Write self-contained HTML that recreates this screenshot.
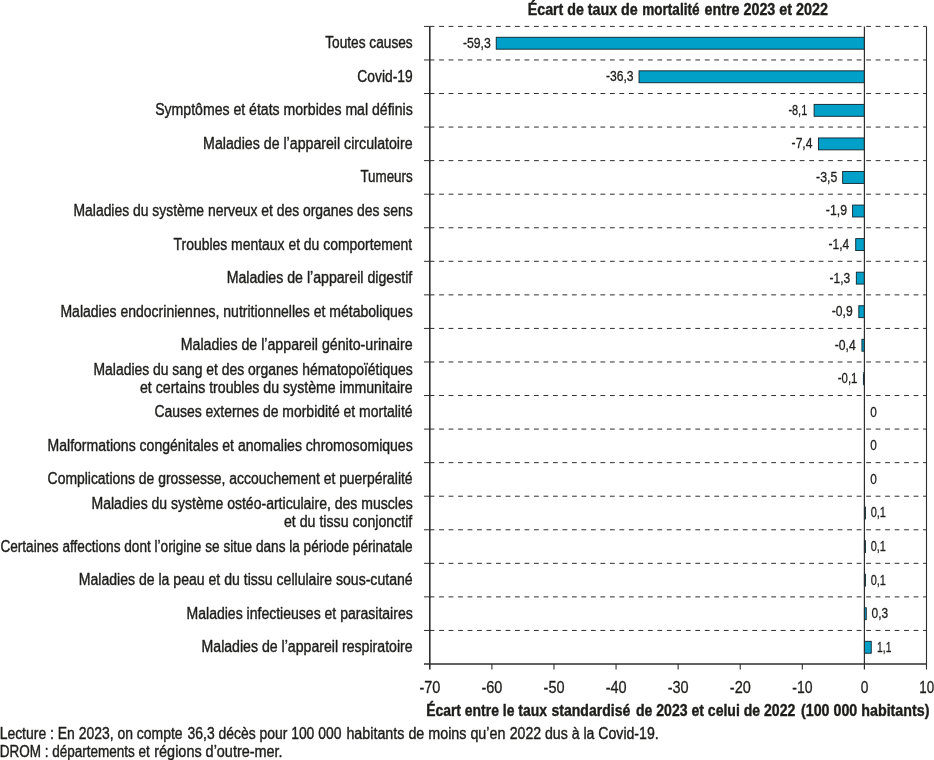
<!DOCTYPE html>
<html lang="fr">
<head>
<meta charset="utf-8">
<title>Écart de taux de mortalité entre 2023 et 2022</title>
<style>
html,body{margin:0;padding:0;background:#fff;}
body{width:934px;height:760px;overflow:hidden;}
svg{display:block;transform:translateZ(0);will-change:transform;}
text{font-family:"Liberation Sans",Arial,Helvetica,sans-serif;fill:#1d1d1b;stroke:#1d1d1b;stroke-linejoin:round;}
.lab{font-size:16px;font-weight:normal;stroke-width:0.4px;}
.val{font-size:15px;font-weight:normal;stroke-width:0.3px;}
.tick{font-size:16.3px;font-weight:normal;stroke-width:0.3px;}
.b{font-size:16.1px;font-weight:bold;stroke-width:0.4px;}
</style>
</head>
<body>
<svg width="934" height="760" viewBox="0 0 934 760">
<rect width="934" height="760" fill="#ffffff"/>
<g stroke="#2e2e2e" stroke-width="1" fill="none">
<line x1="439.10" y1="26.40" x2="926.49" y2="26.40" stroke-dasharray="4.8 4.69"/>
<line x1="424.00" y1="26.40" x2="434.40" y2="26.40"/>
<line x1="439.10" y1="59.96" x2="926.49" y2="59.96" stroke-dasharray="4.8 4.69"/>
<line x1="424.00" y1="59.96" x2="434.40" y2="59.96"/>
<line x1="439.10" y1="93.52" x2="926.49" y2="93.52" stroke-dasharray="4.8 4.69"/>
<line x1="424.00" y1="93.52" x2="434.40" y2="93.52"/>
<line x1="439.10" y1="127.07" x2="926.49" y2="127.07" stroke-dasharray="4.8 4.69"/>
<line x1="424.00" y1="127.07" x2="434.40" y2="127.07"/>
<line x1="439.10" y1="160.63" x2="926.49" y2="160.63" stroke-dasharray="4.8 4.69"/>
<line x1="424.00" y1="160.63" x2="434.40" y2="160.63"/>
<line x1="439.10" y1="194.19" x2="926.49" y2="194.19" stroke-dasharray="4.8 4.69"/>
<line x1="424.00" y1="194.19" x2="434.40" y2="194.19"/>
<line x1="439.10" y1="227.75" x2="926.49" y2="227.75" stroke-dasharray="4.8 4.69"/>
<line x1="424.00" y1="227.75" x2="434.40" y2="227.75"/>
<line x1="439.10" y1="261.31" x2="926.49" y2="261.31" stroke-dasharray="4.8 4.69"/>
<line x1="424.00" y1="261.31" x2="434.40" y2="261.31"/>
<line x1="439.10" y1="294.86" x2="926.49" y2="294.86" stroke-dasharray="4.8 4.69"/>
<line x1="424.00" y1="294.86" x2="434.40" y2="294.86"/>
<line x1="439.10" y1="328.42" x2="926.49" y2="328.42" stroke-dasharray="4.8 4.69"/>
<line x1="424.00" y1="328.42" x2="434.40" y2="328.42"/>
<line x1="439.10" y1="361.98" x2="926.49" y2="361.98" stroke-dasharray="4.8 4.69"/>
<line x1="424.00" y1="361.98" x2="434.40" y2="361.98"/>
<line x1="439.10" y1="395.54" x2="926.49" y2="395.54" stroke-dasharray="4.8 4.69"/>
<line x1="424.00" y1="395.54" x2="434.40" y2="395.54"/>
<line x1="439.10" y1="429.09" x2="926.49" y2="429.09" stroke-dasharray="4.8 4.69"/>
<line x1="424.00" y1="429.09" x2="434.40" y2="429.09"/>
<line x1="439.10" y1="462.65" x2="926.49" y2="462.65" stroke-dasharray="4.8 4.69"/>
<line x1="424.00" y1="462.65" x2="434.40" y2="462.65"/>
<line x1="439.10" y1="496.21" x2="926.49" y2="496.21" stroke-dasharray="4.8 4.69"/>
<line x1="424.00" y1="496.21" x2="434.40" y2="496.21"/>
<line x1="439.10" y1="529.77" x2="926.49" y2="529.77" stroke-dasharray="4.8 4.69"/>
<line x1="424.00" y1="529.77" x2="434.40" y2="529.77"/>
<line x1="439.10" y1="563.33" x2="926.49" y2="563.33" stroke-dasharray="4.8 4.69"/>
<line x1="424.00" y1="563.33" x2="434.40" y2="563.33"/>
<line x1="439.10" y1="596.88" x2="926.49" y2="596.88" stroke-dasharray="4.8 4.69"/>
<line x1="424.00" y1="596.88" x2="434.40" y2="596.88"/>
<line x1="439.10" y1="630.44" x2="926.49" y2="630.44" stroke-dasharray="4.8 4.69"/>
<line x1="424.00" y1="630.44" x2="434.40" y2="630.44"/>
</g>
<g fill="#00a0c8" stroke="#0c222c" stroke-width="0.9">
<rect x="496.23" y="37.28" width="368.17" height="11.90"/>
<rect x="639.03" y="70.84" width="225.37" height="11.90"/>
<rect x="814.11" y="104.39" width="50.29" height="11.90"/>
<rect x="818.46" y="137.95" width="45.94" height="11.90"/>
<rect x="842.67" y="171.51" width="21.73" height="11.90"/>
<rect x="852.60" y="205.07" width="11.80" height="11.90"/>
<rect x="855.71" y="238.63" width="8.69" height="11.90"/>
<rect x="856.33" y="272.18" width="8.07" height="11.90"/>
<rect x="858.81" y="305.74" width="5.59" height="11.90"/>
<rect x="861.92" y="339.30" width="2.48" height="11.90"/>
<rect x="863.40" y="372.86" width="1.00" height="11.90"/>
<rect x="864.40" y="507.09" width="1.00" height="11.90"/>
<rect x="864.40" y="540.65" width="1.00" height="11.90"/>
<rect x="864.40" y="574.21" width="1.00" height="11.90"/>
<rect x="864.40" y="607.76" width="1.86" height="11.90"/>
<rect x="864.40" y="641.32" width="6.83" height="11.90"/>
</g>
<g stroke="#2e2e2e" fill="none">
<line x1="429.80" y1="26.40" x2="429.80" y2="669.40" stroke-width="1.6"/>
<line x1="424.00" y1="664.00" x2="926.99" y2="664.00" stroke-width="1.6"/>
<line x1="864.40" y1="26.40" x2="864.40" y2="669.40" stroke-width="1.2"/>
<line x1="926.49" y1="26.40" x2="926.49" y2="669.40" stroke-width="1.1"/>
<line x1="491.89" y1="664.00" x2="491.89" y2="669.40" stroke-width="1.1"/>
<line x1="553.97" y1="664.00" x2="553.97" y2="669.40" stroke-width="1.1"/>
<line x1="616.06" y1="664.00" x2="616.06" y2="669.40" stroke-width="1.1"/>
<line x1="678.14" y1="664.00" x2="678.14" y2="669.40" stroke-width="1.1"/>
<line x1="740.23" y1="664.00" x2="740.23" y2="669.40" stroke-width="1.1"/>
<line x1="802.31" y1="664.00" x2="802.31" y2="669.40" stroke-width="1.1"/>
</g>
<text class="b" y="15.10"><tspan x="527.71" textLength="110.04" lengthAdjust="spacingAndGlyphs">Écart de taux de</tspan> <tspan x="642.26" textLength="57.20" lengthAdjust="spacingAndGlyphs">mortalité</tspan> <tspan x="704.50" textLength="123.36" lengthAdjust="spacingAndGlyphs">entre 2023 et 2022</tspan></text>
<text class="lab" x="325.20" y="48.18" textLength="87.50" lengthAdjust="spacingAndGlyphs">Toutes causes</text>
<text class="lab" x="357.30" y="81.74" textLength="55.31" lengthAdjust="spacingAndGlyphs">Covid-19</text>
<text class="lab" x="155.20" y="115.29" textLength="257.50" lengthAdjust="spacingAndGlyphs">Symptômes et états morbides mal définis</text>
<text class="lab" x="203.11" y="148.85" textLength="209.50" lengthAdjust="spacingAndGlyphs">Maladies de l’appareil circulatoire</text>
<text class="lab" x="360.40" y="182.41" textLength="52.30" lengthAdjust="spacingAndGlyphs">Tumeurs</text>
<text class="lab" x="73.53" y="215.97" textLength="339.17" lengthAdjust="spacingAndGlyphs">Maladies du système nerveux et des organes des sens</text>
<text class="lab" x="173.60" y="249.53" textLength="238.62" lengthAdjust="spacingAndGlyphs">Troubles mentaux et du comportement</text>
<text class="lab" x="226.72" y="283.08" textLength="185.49" lengthAdjust="spacingAndGlyphs">Maladies de l’appareil digestif</text>
<text class="lab" x="60.42" y="316.64" textLength="352.28" lengthAdjust="spacingAndGlyphs">Maladies endocriniennes, nutritionnelles et métaboliques</text>
<text class="lab" x="180.71" y="350.20" textLength="231.90" lengthAdjust="spacingAndGlyphs">Maladies de l’appareil génito-urinaire</text>
<text class="lab" x="93.53" y="374.76" textLength="319.17" lengthAdjust="spacingAndGlyphs">Maladies du sang et des organes hématopoïétiques</text>
<text class="lab" x="140.00" y="392.76" textLength="272.61" lengthAdjust="spacingAndGlyphs">et certains troubles du système immunitaire</text>
<text class="lab" x="154.40" y="417.32" textLength="258.21" lengthAdjust="spacingAndGlyphs">Causes externes de morbidité et mortalité</text>
<text class="lab" x="47.52" y="450.87" textLength="365.18" lengthAdjust="spacingAndGlyphs">Malformations congénitales et anomalies chromosomiques</text>
<text class="lab" x="47.60" y="484.43" textLength="365.01" lengthAdjust="spacingAndGlyphs">Complications de grossesse, accouchement et puerpéralité</text>
<text class="lab" x="91.52" y="508.99" textLength="321.18" lengthAdjust="spacingAndGlyphs">Maladies du système ostéo-articulaire, des muscles</text>
<text class="lab" x="284.00" y="526.99" textLength="128.21" lengthAdjust="spacingAndGlyphs">et du tissu conjonctif</text>
<text class="lab" x="0.40" y="551.55" textLength="412.21" lengthAdjust="spacingAndGlyphs">Certaines affections dont l’origine se situe dans la période périnatale</text>
<text class="lab" x="78.72" y="585.11" textLength="333.89" lengthAdjust="spacingAndGlyphs">Maladies de la peau et du tissu cellulaire sous-cutané</text>
<text class="lab" x="186.52" y="618.66" textLength="226.18" lengthAdjust="spacingAndGlyphs">Maladies infectieuses et parasitaires</text>
<text class="lab" x="201.52" y="652.22" textLength="211.09" lengthAdjust="spacingAndGlyphs">Maladies de l’appareil respiratoire</text>
<text class="val" x="462.90" y="47.68" textLength="27.88" lengthAdjust="spacingAndGlyphs">-59,3</text>
<text class="val" x="605.90" y="81.24" textLength="27.68" lengthAdjust="spacingAndGlyphs">-36,3</text>
<text class="val" x="788.40" y="114.79" textLength="18.85" lengthAdjust="spacingAndGlyphs">-8,1</text>
<text class="val" x="791.60" y="148.35" textLength="20.88" lengthAdjust="spacingAndGlyphs">-7,4</text>
<text class="val" x="816.10" y="181.91" textLength="21.18" lengthAdjust="spacingAndGlyphs">-3,5</text>
<text class="val" x="825.80" y="215.47" textLength="21.18" lengthAdjust="spacingAndGlyphs">-1,9</text>
<text class="val" x="828.60" y="249.03" textLength="20.67" lengthAdjust="spacingAndGlyphs">-1,4</text>
<text class="val" x="829.60" y="282.58" textLength="20.67" lengthAdjust="spacingAndGlyphs">-1,3</text>
<text class="val" x="831.80" y="316.14" textLength="20.88" lengthAdjust="spacingAndGlyphs">-0,9</text>
<text class="val" x="834.80" y="349.70" textLength="20.98" lengthAdjust="spacingAndGlyphs">-0,4</text>
<text class="val" x="837.80" y="383.26" textLength="19.66" lengthAdjust="spacingAndGlyphs">-0,1</text>
<text class="val" x="870.30" y="416.82" textLength="6.57" lengthAdjust="spacingAndGlyphs">0</text>
<text class="val" x="870.30" y="450.37" textLength="6.57" lengthAdjust="spacingAndGlyphs">0</text>
<text class="val" x="870.30" y="483.93" textLength="6.57" lengthAdjust="spacingAndGlyphs">0</text>
<text class="val" x="870.70" y="517.49" textLength="15.25" lengthAdjust="spacingAndGlyphs">0,1</text>
<text class="val" x="870.70" y="551.05" textLength="15.25" lengthAdjust="spacingAndGlyphs">0,1</text>
<text class="val" x="870.70" y="584.61" textLength="15.25" lengthAdjust="spacingAndGlyphs">0,1</text>
<text class="val" x="871.60" y="618.16" textLength="16.57" lengthAdjust="spacingAndGlyphs">0,3</text>
<text class="val" x="877.11" y="651.72" textLength="14.32" lengthAdjust="spacingAndGlyphs">1,1</text>
<text class="tick" x="419.40" y="693.20" textLength="20.95" lengthAdjust="spacingAndGlyphs">-70</text>
<text class="tick" x="481.49" y="693.20" textLength="20.95" lengthAdjust="spacingAndGlyphs">-60</text>
<text class="tick" x="543.57" y="693.20" textLength="20.95" lengthAdjust="spacingAndGlyphs">-50</text>
<text class="tick" x="605.66" y="693.20" textLength="20.95" lengthAdjust="spacingAndGlyphs">-40</text>
<text class="tick" x="667.74" y="693.20" textLength="20.95" lengthAdjust="spacingAndGlyphs">-30</text>
<text class="tick" x="729.83" y="693.20" textLength="20.95" lengthAdjust="spacingAndGlyphs">-20</text>
<text class="tick" x="792.26" y="693.20" textLength="20.25" lengthAdjust="spacingAndGlyphs">-10</text>
<text class="tick" x="860.65" y="693.20" textLength="7.65" lengthAdjust="spacingAndGlyphs">0</text>
<text class="tick" x="919.23" y="693.20" textLength="14.87" lengthAdjust="spacingAndGlyphs">10</text>
<text class="b" y="715.70"><tspan x="426.13" textLength="120.82" lengthAdjust="spacingAndGlyphs">Écart entre le taux</tspan> <tspan x="551.50" textLength="78.76" lengthAdjust="spacingAndGlyphs">standardisé</tspan> <tspan x="636.00" textLength="159.26" lengthAdjust="spacingAndGlyphs">de 2023 et celui de 2022</tspan> <tspan x="801.00" textLength="128.42" lengthAdjust="spacingAndGlyphs">(100 000 habitants)</tspan></text>
<text class="lab" y="738.70"><tspan x="-0.37" textLength="182.88" lengthAdjust="spacingAndGlyphs">Lecture : En 2023, on compte</tspan> <tspan x="187.60" textLength="153.81" lengthAdjust="spacingAndGlyphs">36,3 décès pour 100 000</tspan> <tspan x="346.41" textLength="159.00" lengthAdjust="spacingAndGlyphs">habitants de moins qu’en</tspan> <tspan x="509.70" textLength="148.97" lengthAdjust="spacingAndGlyphs">2022 dus à la Covid-19.</tspan></text>
<text class="lab" y="756.90"><tspan x="-0.24" textLength="150.08" lengthAdjust="spacingAndGlyphs">DROM : départements et</tspan> <tspan x="154.30" textLength="128.30" lengthAdjust="spacingAndGlyphs">régions d’outre-mer.</tspan></text>
</svg>
</body>
</html>
